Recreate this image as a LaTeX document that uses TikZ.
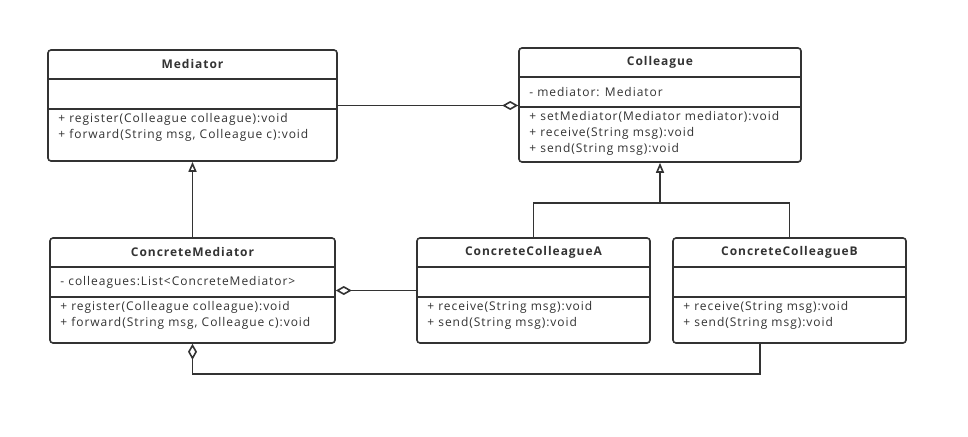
\documentclass[tikz,border=0pt]{standalone}
\usepackage{fontspec}
\setmainfont{Open Sans}[LetterSpace=8]
\usetikzlibrary{arrows.meta,calc}

\definecolor{umlgray}{HTML}{333333}

\tikzset{
  classbox/.style={draw=umlgray, line width=1.6pt, rounded corners=3pt, fill=white, inner sep=0pt},
  classname/.style={font=\fontsize{12}{14}\selectfont\bfseries, text=umlgray, inner sep=0pt},
  members/.style={font=\fontsize{12}{16}\selectfont, text=umlgray, align=left, inner sep=0pt},
  link/.style={draw=umlgray, line width=1.6pt},
  inherit/.style={link, -{Triangle[open, length=10pt, width=8pt]}},
  aggr/.style={link, -{Diamond[open, length=16pt, width=9pt]}},
}

% name, centre, width, height, title, attributes, methods
\newcommand{\umlclass}[7]{%
  \node[classbox, minimum width=#3, minimum height=#4] (#1) at #2 {};
  \node[classname] (#1-title) at ($(#1.north)+(0,15)$) {#5};
  \draw[link] ($(#1.north west)+(0,30)$) -- ($(#1.north east)+(0,30)$);
  \draw[link] ($(#1.north west)+(0,60)$) -- ($(#1.north east)+(0,60)$);
  \node[members, anchor=west] (#1-attr) at ($(#1.north west)+(11,45)$) {#6};
  \node[members, anchor=north west] (#1-ops) at ($(#1.north west)+(11,64)$) {#7};
}

\begin{document}
\begin{tikzpicture}[x=1pt, y=-1pt]
\useasboundingbox (0,0) rectangle (968,436);

\umlclass{med}{(192.5,105.5)}{289pt}{111pt}{Mediator}{}
  {+ register(Colleague colleague):void\\+ forward(String msg, Colleague c):void}
\umlclass{col}{(660,105)}{282pt}{114pt}{Colleague}{- mediator: Mediator}
  {+ setMediator(Mediator mediator):void\\+ receive(String msg):void\\+ send(String msg):void}
\umlclass{cm}{(192.5,290.5)}{285pt}{105pt}{ConcreteMediator}{- colleagues:List<ConcreteMediator>}
  {+ register(Colleague colleague):void\\+ forward(String msg, Colleague c):void}
\umlclass{cca}{(533.5,290.5)}{233pt}{105pt}{ConcreteColleagueA}{}
  {+ receive(String msg):void\\+ send(String msg):void}
\umlclass{ccb}{(789.5,290.5)}{233pt}{105pt}{ConcreteColleagueB}{}
  {+ receive(String msg):void\\+ send(String msg):void}

% associations
\draw[aggr] (med.east) -- (med.east -| col.west);
\draw[inherit] (cm.north) -- (cm.north |- med.south);
\coordinate (join) at ($(col.south)+(0,40)$);
\draw[inherit] (cca.north) |- (join) -- (col.south);
\draw[link] (ccb.north) |- (join);
\draw[aggr] (cca.west) -- (cm.east);
\coordinate (ccbout) at ($(ccb.south)+(-29.5,0)$);
\draw[aggr] (ccbout) -- ++(0,30) -| (cm.south);
\end{tikzpicture}
\end{document}
